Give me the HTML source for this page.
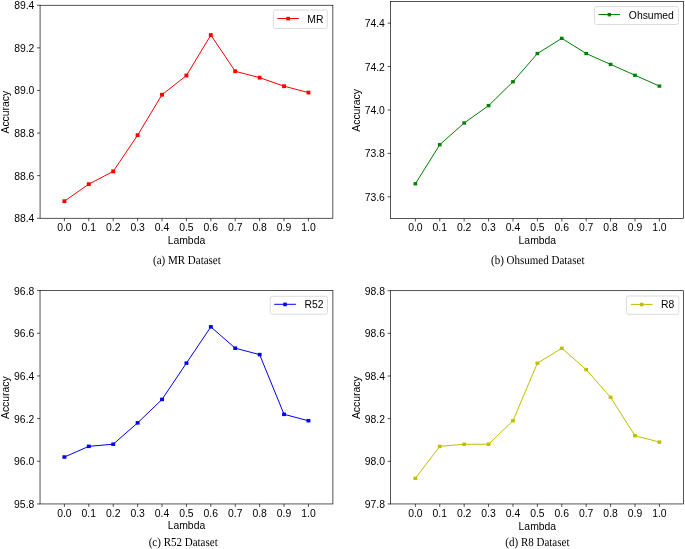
<!DOCTYPE html>
<html><head><meta charset="utf-8"><title>Lambda sensitivity</title>
<style>
html,body{margin:0;padding:0;background:#fff;}
body{width:685px;height:549px;overflow:hidden;}
svg{display:block;will-change:transform;}
  .c{text-rendering:geometricPrecision;}
.s{font-family:"Liberation Sans",sans-serif;font-size:10.40px;fill:#000;}
.c{font-family:"Liberation Serif",serif;font-size:11.00px;fill:#000;}
</style></head><body>
<svg width="685" height="549" viewBox="0 0 685 549">
<rect x="0" y="0" width="685" height="549" fill="#fff"/>
<g>
<polyline points="64.4,201.21 88.81,184.17 113.21,171.39 137.62,135.18 162.02,94.71 186.43,75.54 210.83,35.07 235.23,71.28 259.64,77.67 284.04,86.19 308.45,92.58" fill="none" stroke="#ff0000" stroke-width="1" stroke-linejoin="round"/>
<rect x="62.45" y="199.31" width="3.9" height="3.8" fill="#ff0000"/>
<rect x="86.86" y="182.27" width="3.9" height="3.8" fill="#ff0000"/>
<rect x="111.26" y="169.49" width="3.9" height="3.8" fill="#ff0000"/>
<rect x="135.67" y="133.28" width="3.9" height="3.8" fill="#ff0000"/>
<rect x="160.07" y="92.81" width="3.9" height="3.8" fill="#ff0000"/>
<rect x="184.48" y="73.64" width="3.9" height="3.8" fill="#ff0000"/>
<rect x="208.88" y="33.17" width="3.9" height="3.8" fill="#ff0000"/>
<rect x="233.28" y="69.38" width="3.9" height="3.8" fill="#ff0000"/>
<rect x="257.69" y="75.77" width="3.9" height="3.8" fill="#ff0000"/>
<rect x="282.09" y="84.29" width="3.9" height="3.8" fill="#ff0000"/>
<rect x="306.5" y="90.68" width="3.9" height="3.8" fill="#ff0000"/>
<rect x="40.07" y="5.25" width="292.78" height="213" fill="none" stroke="#000" stroke-width="0.67"/>
<line x1="64.4" y1="218.25" x2="64.4" y2="221.25" stroke="#000" stroke-width="0.67"/>
<text class="s" x="64.4" y="231" text-anchor="middle">0.0</text>
<line x1="88.81" y1="218.25" x2="88.81" y2="221.25" stroke="#000" stroke-width="0.67"/>
<text class="s" x="88.81" y="231" text-anchor="middle">0.1</text>
<line x1="113.21" y1="218.25" x2="113.21" y2="221.25" stroke="#000" stroke-width="0.67"/>
<text class="s" x="113.21" y="231" text-anchor="middle">0.2</text>
<line x1="137.62" y1="218.25" x2="137.62" y2="221.25" stroke="#000" stroke-width="0.67"/>
<text class="s" x="137.62" y="231" text-anchor="middle">0.3</text>
<line x1="162.02" y1="218.25" x2="162.02" y2="221.25" stroke="#000" stroke-width="0.67"/>
<text class="s" x="162.02" y="231" text-anchor="middle">0.4</text>
<line x1="186.43" y1="218.25" x2="186.43" y2="221.25" stroke="#000" stroke-width="0.67"/>
<text class="s" x="186.43" y="231" text-anchor="middle">0.5</text>
<line x1="210.83" y1="218.25" x2="210.83" y2="221.25" stroke="#000" stroke-width="0.67"/>
<text class="s" x="210.83" y="231" text-anchor="middle">0.6</text>
<line x1="235.23" y1="218.25" x2="235.23" y2="221.25" stroke="#000" stroke-width="0.67"/>
<text class="s" x="235.23" y="231" text-anchor="middle">0.7</text>
<line x1="259.64" y1="218.25" x2="259.64" y2="221.25" stroke="#000" stroke-width="0.67"/>
<text class="s" x="259.64" y="231" text-anchor="middle">0.8</text>
<line x1="284.04" y1="218.25" x2="284.04" y2="221.25" stroke="#000" stroke-width="0.67"/>
<text class="s" x="284.04" y="231" text-anchor="middle">0.9</text>
<line x1="308.45" y1="218.25" x2="308.45" y2="221.25" stroke="#000" stroke-width="0.67"/>
<text class="s" x="308.45" y="231" text-anchor="middle">1.0</text>
<line x1="37.07" y1="218.25" x2="40.07" y2="218.25" stroke="#000" stroke-width="0.67"/>
<text class="s" x="34.37" y="222.25" text-anchor="end">88.4</text>
<line x1="37.07" y1="175.65" x2="40.07" y2="175.65" stroke="#000" stroke-width="0.67"/>
<text class="s" x="34.37" y="179.65" text-anchor="end">88.6</text>
<line x1="37.07" y1="133.05" x2="40.07" y2="133.05" stroke="#000" stroke-width="0.67"/>
<text class="s" x="34.37" y="137.05" text-anchor="end">88.8</text>
<line x1="37.07" y1="90.45" x2="40.07" y2="90.45" stroke="#000" stroke-width="0.67"/>
<text class="s" x="34.37" y="94.45" text-anchor="end">89.0</text>
<line x1="37.07" y1="47.85" x2="40.07" y2="47.85" stroke="#000" stroke-width="0.67"/>
<text class="s" x="34.37" y="51.85" text-anchor="end">89.2</text>
<line x1="37.07" y1="5.25" x2="40.07" y2="5.25" stroke="#000" stroke-width="0.67"/>
<text class="s" x="34.37" y="9.25" text-anchor="end">89.4</text>
<text class="s" x="186.43" y="244" text-anchor="middle">Lambda</text>
<text class="s" transform="translate(9.1,112.15) rotate(-90)" text-anchor="middle">Accuracy</text>
<rect x="273.4" y="10.1" width="53.9" height="18.4" rx="2" ry="2" fill="#fff" stroke="#d8d8d8" stroke-width="0.9"/>
<line x1="277.3" y1="18.5" x2="298.9" y2="18.5" stroke="#ff0000" stroke-width="1"/>
<rect x="286.29" y="16.84" width="3.63" height="3.63" fill="#ff0000"/>
<text class="s" x="307.3" y="22.5">MR</text>
<text class="c" transform="translate(186.9,263.7) scale(1,1.1)" text-anchor="middle">(a) MR Dataset</text>
</g>
<g>
<polyline points="415.36,183.77 439.76,144.7 464.17,123 488.57,105.63 512.98,81.76 537.38,53.54 561.78,38.35 586.19,53.54 610.59,64.39 635,75.25 659.4,86.1" fill="none" stroke="#008000" stroke-width="1" stroke-linejoin="round"/>
<rect x="413.51" y="182.12" width="3.7" height="3.3" fill="#008000"/>
<rect x="437.91" y="143.05" width="3.7" height="3.3" fill="#008000"/>
<rect x="462.32" y="121.35" width="3.7" height="3.3" fill="#008000"/>
<rect x="486.72" y="103.98" width="3.7" height="3.3" fill="#008000"/>
<rect x="511.13" y="80.11" width="3.7" height="3.3" fill="#008000"/>
<rect x="535.53" y="51.89" width="3.7" height="3.3" fill="#008000"/>
<rect x="559.93" y="36.7" width="3.7" height="3.3" fill="#008000"/>
<rect x="584.34" y="51.89" width="3.7" height="3.3" fill="#008000"/>
<rect x="608.74" y="62.74" width="3.7" height="3.3" fill="#008000"/>
<rect x="633.15" y="73.6" width="3.7" height="3.3" fill="#008000"/>
<rect x="657.55" y="84.45" width="3.7" height="3.3" fill="#008000"/>
<rect x="390.6" y="1.45" width="292.95" height="217.05" fill="none" stroke="#000" stroke-width="0.67"/>
<line x1="415.36" y1="218.5" x2="415.36" y2="221.5" stroke="#000" stroke-width="0.67"/>
<text class="s" x="415.36" y="231" text-anchor="middle">0.0</text>
<line x1="439.76" y1="218.5" x2="439.76" y2="221.5" stroke="#000" stroke-width="0.67"/>
<text class="s" x="439.76" y="231" text-anchor="middle">0.1</text>
<line x1="464.17" y1="218.5" x2="464.17" y2="221.5" stroke="#000" stroke-width="0.67"/>
<text class="s" x="464.17" y="231" text-anchor="middle">0.2</text>
<line x1="488.57" y1="218.5" x2="488.57" y2="221.5" stroke="#000" stroke-width="0.67"/>
<text class="s" x="488.57" y="231" text-anchor="middle">0.3</text>
<line x1="512.98" y1="218.5" x2="512.98" y2="221.5" stroke="#000" stroke-width="0.67"/>
<text class="s" x="512.98" y="231" text-anchor="middle">0.4</text>
<line x1="537.38" y1="218.5" x2="537.38" y2="221.5" stroke="#000" stroke-width="0.67"/>
<text class="s" x="537.38" y="231" text-anchor="middle">0.5</text>
<line x1="561.78" y1="218.5" x2="561.78" y2="221.5" stroke="#000" stroke-width="0.67"/>
<text class="s" x="561.78" y="231" text-anchor="middle">0.6</text>
<line x1="586.19" y1="218.5" x2="586.19" y2="221.5" stroke="#000" stroke-width="0.67"/>
<text class="s" x="586.19" y="231" text-anchor="middle">0.7</text>
<line x1="610.59" y1="218.5" x2="610.59" y2="221.5" stroke="#000" stroke-width="0.67"/>
<text class="s" x="610.59" y="231" text-anchor="middle">0.8</text>
<line x1="635" y1="218.5" x2="635" y2="221.5" stroke="#000" stroke-width="0.67"/>
<text class="s" x="635" y="231" text-anchor="middle">0.9</text>
<line x1="659.4" y1="218.5" x2="659.4" y2="221.5" stroke="#000" stroke-width="0.67"/>
<text class="s" x="659.4" y="231" text-anchor="middle">1.0</text>
<line x1="387.6" y1="196.8" x2="390.6" y2="196.8" stroke="#000" stroke-width="0.67"/>
<text class="s" x="384.9" y="200.8" text-anchor="end">73.6</text>
<line x1="387.6" y1="153.39" x2="390.6" y2="153.39" stroke="#000" stroke-width="0.67"/>
<text class="s" x="384.9" y="157.39" text-anchor="end">73.8</text>
<line x1="387.6" y1="109.98" x2="390.6" y2="109.98" stroke="#000" stroke-width="0.67"/>
<text class="s" x="384.9" y="113.98" text-anchor="end">74.0</text>
<line x1="387.6" y1="66.56" x2="390.6" y2="66.56" stroke="#000" stroke-width="0.67"/>
<text class="s" x="384.9" y="70.56" text-anchor="end">74.2</text>
<line x1="387.6" y1="23.15" x2="390.6" y2="23.15" stroke="#000" stroke-width="0.67"/>
<text class="s" x="384.9" y="27.15" text-anchor="end">74.4</text>
<text class="s" x="537.38" y="243.8" text-anchor="middle">Lambda</text>
<text class="s" transform="translate(359.5,110.38) rotate(-90)" text-anchor="middle">Accuracy</text>
<rect x="594.5" y="6.6" width="83.9" height="17.9" rx="2" ry="2" fill="#fff" stroke="#d8d8d8" stroke-width="0.9"/>
<line x1="598.6" y1="14.5" x2="620" y2="14.5" stroke="#008000" stroke-width="1"/>
<rect x="607.58" y="12.93" width="3.44" height="3.44" fill="#008000"/>
<text class="s" x="628.8" y="18.7">Ohsumed</text>
<text class="c" transform="translate(537.7,263.6) scale(1,1.1)" text-anchor="middle">(b) Ohsumed Dataset</text>
</g>
<g>
<polyline points="64.4,457.01 88.81,446.35 113.21,444.21 137.62,422.88 162.02,399.41 186.43,363.14 210.83,326.87 235.23,348.2 259.64,354.6 284.04,414.34 308.45,420.74" fill="none" stroke="#0000ff" stroke-width="1" stroke-linejoin="round"/>
<rect x="62.45" y="455.26" width="3.9" height="3.5" fill="#0000ff"/>
<rect x="86.86" y="444.6" width="3.9" height="3.5" fill="#0000ff"/>
<rect x="111.26" y="442.46" width="3.9" height="3.5" fill="#0000ff"/>
<rect x="135.67" y="421.13" width="3.9" height="3.5" fill="#0000ff"/>
<rect x="160.07" y="397.66" width="3.9" height="3.5" fill="#0000ff"/>
<rect x="184.48" y="361.39" width="3.9" height="3.5" fill="#0000ff"/>
<rect x="208.88" y="325.12" width="3.9" height="3.5" fill="#0000ff"/>
<rect x="233.28" y="346.45" width="3.9" height="3.5" fill="#0000ff"/>
<rect x="257.69" y="352.85" width="3.9" height="3.5" fill="#0000ff"/>
<rect x="282.09" y="412.59" width="3.9" height="3.5" fill="#0000ff"/>
<rect x="306.5" y="418.99" width="3.9" height="3.5" fill="#0000ff"/>
<rect x="40.03" y="290.6" width="292.87" height="213.35" fill="none" stroke="#000" stroke-width="0.67"/>
<line x1="64.4" y1="503.95" x2="64.4" y2="506.95" stroke="#000" stroke-width="0.67"/>
<text class="s" x="64.4" y="517.25" text-anchor="middle">0.0</text>
<line x1="88.81" y1="503.95" x2="88.81" y2="506.95" stroke="#000" stroke-width="0.67"/>
<text class="s" x="88.81" y="517.25" text-anchor="middle">0.1</text>
<line x1="113.21" y1="503.95" x2="113.21" y2="506.95" stroke="#000" stroke-width="0.67"/>
<text class="s" x="113.21" y="517.25" text-anchor="middle">0.2</text>
<line x1="137.62" y1="503.95" x2="137.62" y2="506.95" stroke="#000" stroke-width="0.67"/>
<text class="s" x="137.62" y="517.25" text-anchor="middle">0.3</text>
<line x1="162.02" y1="503.95" x2="162.02" y2="506.95" stroke="#000" stroke-width="0.67"/>
<text class="s" x="162.02" y="517.25" text-anchor="middle">0.4</text>
<line x1="186.43" y1="503.95" x2="186.43" y2="506.95" stroke="#000" stroke-width="0.67"/>
<text class="s" x="186.43" y="517.25" text-anchor="middle">0.5</text>
<line x1="210.83" y1="503.95" x2="210.83" y2="506.95" stroke="#000" stroke-width="0.67"/>
<text class="s" x="210.83" y="517.25" text-anchor="middle">0.6</text>
<line x1="235.23" y1="503.95" x2="235.23" y2="506.95" stroke="#000" stroke-width="0.67"/>
<text class="s" x="235.23" y="517.25" text-anchor="middle">0.7</text>
<line x1="259.64" y1="503.95" x2="259.64" y2="506.95" stroke="#000" stroke-width="0.67"/>
<text class="s" x="259.64" y="517.25" text-anchor="middle">0.8</text>
<line x1="284.04" y1="503.95" x2="284.04" y2="506.95" stroke="#000" stroke-width="0.67"/>
<text class="s" x="284.04" y="517.25" text-anchor="middle">0.9</text>
<line x1="308.45" y1="503.95" x2="308.45" y2="506.95" stroke="#000" stroke-width="0.67"/>
<text class="s" x="308.45" y="517.25" text-anchor="middle">1.0</text>
<line x1="37.03" y1="503.95" x2="40.03" y2="503.95" stroke="#000" stroke-width="0.67"/>
<text class="s" x="34.33" y="507.95" text-anchor="end">95.8</text>
<line x1="37.03" y1="461.28" x2="40.03" y2="461.28" stroke="#000" stroke-width="0.67"/>
<text class="s" x="34.33" y="465.28" text-anchor="end">96.0</text>
<line x1="37.03" y1="418.61" x2="40.03" y2="418.61" stroke="#000" stroke-width="0.67"/>
<text class="s" x="34.33" y="422.61" text-anchor="end">96.2</text>
<line x1="37.03" y1="375.94" x2="40.03" y2="375.94" stroke="#000" stroke-width="0.67"/>
<text class="s" x="34.33" y="379.94" text-anchor="end">96.4</text>
<line x1="37.03" y1="333.27" x2="40.03" y2="333.27" stroke="#000" stroke-width="0.67"/>
<text class="s" x="34.33" y="337.27" text-anchor="end">96.6</text>
<line x1="37.03" y1="290.6" x2="40.03" y2="290.6" stroke="#000" stroke-width="0.67"/>
<text class="s" x="34.33" y="294.6" text-anchor="end">96.8</text>
<text class="s" x="186.43" y="529.3" text-anchor="middle">Lambda</text>
<text class="s" transform="translate(9.2,397.67) rotate(-90)" text-anchor="middle">Accuracy</text>
<rect x="270.3" y="296.3" width="57.2" height="17.9" rx="2" ry="2" fill="#fff" stroke="#d8d8d8" stroke-width="0.9"/>
<line x1="274.2" y1="304.3" x2="295.9" y2="304.3" stroke="#0000ff" stroke-width="1"/>
<rect x="283.24" y="302.64" width="3.63" height="3.63" fill="#0000ff"/>
<text class="s" x="304.4" y="307.8">R52</text>
<text class="c" transform="translate(183.2,545.8) scale(1,1.1)" text-anchor="middle">(c) R52 Dataset</text>
</g>
<g>
<polyline points="415.36,478.36 439.76,446.37 464.17,444.24 488.57,444.24 512.98,420.78 537.38,363.21 561.78,348.28 586.19,369.6 610.59,397.32 635,435.71 659.4,442.11" fill="none" stroke="#bfbf00" stroke-width="1" stroke-linejoin="round"/>
<rect x="413.46" y="476.66" width="3.8" height="3.4" fill="#bfbf00"/>
<rect x="437.86" y="444.67" width="3.8" height="3.4" fill="#bfbf00"/>
<rect x="462.27" y="442.54" width="3.8" height="3.4" fill="#bfbf00"/>
<rect x="486.67" y="442.54" width="3.8" height="3.4" fill="#bfbf00"/>
<rect x="511.08" y="419.08" width="3.8" height="3.4" fill="#bfbf00"/>
<rect x="535.48" y="361.51" width="3.8" height="3.4" fill="#bfbf00"/>
<rect x="559.88" y="346.58" width="3.8" height="3.4" fill="#bfbf00"/>
<rect x="584.29" y="367.9" width="3.8" height="3.4" fill="#bfbf00"/>
<rect x="608.69" y="395.62" width="3.8" height="3.4" fill="#bfbf00"/>
<rect x="633.1" y="434.01" width="3.8" height="3.4" fill="#bfbf00"/>
<rect x="657.5" y="440.41" width="3.8" height="3.4" fill="#bfbf00"/>
<rect x="390.65" y="290.7" width="292.8" height="213.25" fill="none" stroke="#000" stroke-width="0.67"/>
<line x1="415.36" y1="503.95" x2="415.36" y2="506.95" stroke="#000" stroke-width="0.67"/>
<text class="s" x="415.36" y="517.25" text-anchor="middle">0.0</text>
<line x1="439.76" y1="503.95" x2="439.76" y2="506.95" stroke="#000" stroke-width="0.67"/>
<text class="s" x="439.76" y="517.25" text-anchor="middle">0.1</text>
<line x1="464.17" y1="503.95" x2="464.17" y2="506.95" stroke="#000" stroke-width="0.67"/>
<text class="s" x="464.17" y="517.25" text-anchor="middle">0.2</text>
<line x1="488.57" y1="503.95" x2="488.57" y2="506.95" stroke="#000" stroke-width="0.67"/>
<text class="s" x="488.57" y="517.25" text-anchor="middle">0.3</text>
<line x1="512.98" y1="503.95" x2="512.98" y2="506.95" stroke="#000" stroke-width="0.67"/>
<text class="s" x="512.98" y="517.25" text-anchor="middle">0.4</text>
<line x1="537.38" y1="503.95" x2="537.38" y2="506.95" stroke="#000" stroke-width="0.67"/>
<text class="s" x="537.38" y="517.25" text-anchor="middle">0.5</text>
<line x1="561.78" y1="503.95" x2="561.78" y2="506.95" stroke="#000" stroke-width="0.67"/>
<text class="s" x="561.78" y="517.25" text-anchor="middle">0.6</text>
<line x1="586.19" y1="503.95" x2="586.19" y2="506.95" stroke="#000" stroke-width="0.67"/>
<text class="s" x="586.19" y="517.25" text-anchor="middle">0.7</text>
<line x1="610.59" y1="503.95" x2="610.59" y2="506.95" stroke="#000" stroke-width="0.67"/>
<text class="s" x="610.59" y="517.25" text-anchor="middle">0.8</text>
<line x1="635" y1="503.95" x2="635" y2="506.95" stroke="#000" stroke-width="0.67"/>
<text class="s" x="635" y="517.25" text-anchor="middle">0.9</text>
<line x1="659.4" y1="503.95" x2="659.4" y2="506.95" stroke="#000" stroke-width="0.67"/>
<text class="s" x="659.4" y="517.25" text-anchor="middle">1.0</text>
<line x1="387.65" y1="503.95" x2="390.65" y2="503.95" stroke="#000" stroke-width="0.67"/>
<text class="s" x="384.95" y="507.95" text-anchor="end">97.8</text>
<line x1="387.65" y1="461.3" x2="390.65" y2="461.3" stroke="#000" stroke-width="0.67"/>
<text class="s" x="384.95" y="465.3" text-anchor="end">98.0</text>
<line x1="387.65" y1="418.65" x2="390.65" y2="418.65" stroke="#000" stroke-width="0.67"/>
<text class="s" x="384.95" y="422.65" text-anchor="end">98.2</text>
<line x1="387.65" y1="376" x2="390.65" y2="376" stroke="#000" stroke-width="0.67"/>
<text class="s" x="384.95" y="380" text-anchor="end">98.4</text>
<line x1="387.65" y1="333.35" x2="390.65" y2="333.35" stroke="#000" stroke-width="0.67"/>
<text class="s" x="384.95" y="337.35" text-anchor="end">98.6</text>
<line x1="387.65" y1="290.7" x2="390.65" y2="290.7" stroke="#000" stroke-width="0.67"/>
<text class="s" x="384.95" y="294.7" text-anchor="end">98.8</text>
<text class="s" x="537.38" y="529.5" text-anchor="middle">Lambda</text>
<text class="s" transform="translate(359.5,397.72) rotate(-90)" text-anchor="middle">Accuracy</text>
<rect x="626.4" y="296" width="52.4" height="18.3" rx="2" ry="2" fill="#fff" stroke="#d8d8d8" stroke-width="0.9"/>
<line x1="630.8" y1="304.4" x2="652.7" y2="304.4" stroke="#bfbf00" stroke-width="1"/>
<rect x="639.98" y="302.78" width="3.53" height="3.53" fill="#bfbf00"/>
<text class="s" x="660.9" y="308">R8</text>
<text class="c" transform="translate(537.4,545.7) scale(1,1.1)" text-anchor="middle">(d) R8 Dataset</text>
</g>
</svg>
</body></html>
